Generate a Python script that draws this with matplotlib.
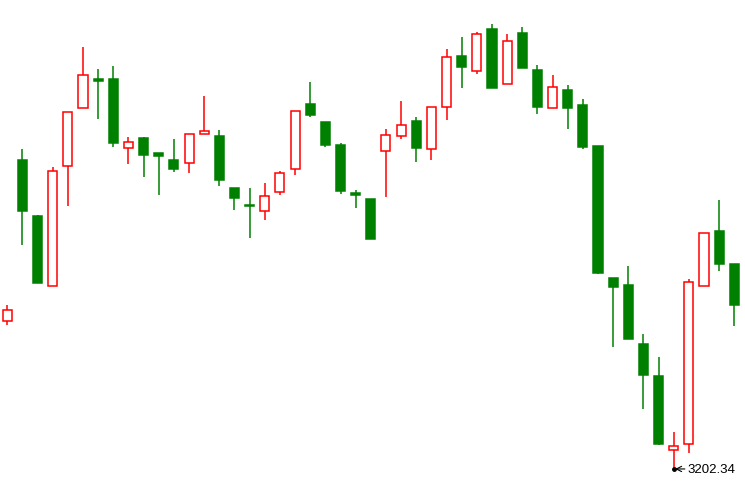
import numpy as np
import matplotlib
matplotlib.use('Agg')
import matplotlib.pyplot as plt

# daily OHLC values
opens = [3350.0, 3511.3, 3455.3, 3385.0, 3505.0, 3563.0, 3592.3, 3592.3, 3523.0, 3533.3,
         3518.3, 3511.3, 3508.0, 3537.0, 3535.3, 3483.3, 3466.3, 3460.0, 3479.0, 3502.0,
         3567.3, 3549.3, 3526.3, 3478.3, 3472.3, 3520.0, 3535.0, 3550.3, 3522.0, 3564.0,
         3615.3, 3600.0, 3642.3, 3587.0, 3638.3, 3601.3, 3563.0, 3581.3, 3566.3, 3525.3,
         3393.3, 3386.3, 3327.3, 3295.3, 3221.0, 3227.0, 3385.0, 3440.3, 3407.3]
highs = [3366.3, 3522.3, 3456.3, 3504.3, 3559.0, 3624.3, 3602.3, 3605.3, 3534.3, 3534.3,
         3518.3, 3532.3, 3537.3, 3575.3, 3541.3, 3483.3, 3483.3, 3488.3, 3500.0, 3560.0,
         3589.3, 3549.3, 3528.3, 3481.3, 3472.3, 3542.3, 3570.3, 3554.3, 3564.3, 3622.3,
         3634.3, 3639.3, 3647.3, 3637.3, 3644.3, 3606.3, 3596.3, 3586.3, 3572.3, 3525.3,
         3393.3, 3405.3, 3337.3, 3314.3, 3239.3, 3392.3, 3438.0, 3471.3, 3407.3]
lows = [3346.6, 3426.6, 3388.6, 3385.0, 3465.6, 3563.0, 3552.6, 3524.6, 3507.6, 3494.6,
        3476.6, 3499.6, 3498.6, 3537.0, 3485.6, 3461.6, 3433.6, 3451.6, 3476.6, 3496.6,
        3554.6, 3524.6, 3477.6, 3463.6, 3432.6, 3474.6, 3532.6, 3509.6, 3511.6, 3551.6,
        3583.6, 3597.6, 3583.6, 3587.0, 3603.6, 3557.3, 3563.0, 3542.3, 3522.3, 3397.3,
        3324.6, 3332.6, 3262.6, 3226.6, 3202.34, 3218.6, 3385.0, 3400.6, 3345.6]
closes = [3361.0, 3460.6, 3388.6, 3500.0, 3559.0, 3596.0, 3590.6, 3528.6, 3529.0, 3516.6,
          3515.6, 3502.6, 3537.0, 3540.0, 3491.6, 3473.6, 3465.8, 3475.0, 3498.0, 3560.0,
          3556.6, 3526.6, 3480.6, 3476.6, 3432.6, 3536.0, 3546.0, 3523.6, 3564.3, 3614.0,
          3604.6, 3637.3, 3583.6, 3630.0, 3603.6, 3564.6, 3584.0, 3563.6, 3524.6, 3398.3,
          3384.6, 3332.6, 3296.6, 3227.6, 3225.0, 3389.0, 3438.0, 3407.6, 3366.6]

UP = '#ff0000'
DOWN = '#008000'


def main():
    o = np.array(opens)
    h = np.array(highs)
    l = np.array(lows)
    c = np.array(closes)
    x = np.arange(len(o))
    up = c >= o
    colors = np.where(up, UP, DOWN)

    fig = plt.figure(figsize=(7.45, 4.89), dpi=100)
    ax = fig.add_axes([0, 0, 1, 1])

    #wicks first so the hollow bodies cover them
    ax.vlines(x, l, h, colors=colors, linewidth=1.1, zorder=1)
    bottoms = np.minimum(o, c)
    heights = np.maximum(np.abs(c - o), 0.4)
    faces = np.where(up, 'white', DOWN)
    ax.bar(x, heights, bottom=bottoms, width=0.6, color=faces, edgecolor=colors,
           linewidth=1.1, zorder=2)

    #mark the lowest low
    i_min = int(np.argmin(l))
    ax.plot(x[i_min], l[i_min], 'o', color='black', markersize=2.5, zorder=3)
    ax.annotate('%.2f' % l[i_min], xy=(x[i_min], l[i_min]), xytext=(10, 0),
                textcoords='offset points', va='center', ha='left',
                fontsize=9.5, family='Liberation Sans', color='black',
                arrowprops=dict(arrowstyle='->', color='black', lw=0.8,
                                shrinkA=0, shrinkB=1))

    ax.set_xlim(-0.482, 48.706)
    ax.set_ylim(3183.3, 3672.3)
    ax.axis('off')
    fig.savefig('out.png', dpi=100, facecolor='white')


main()
